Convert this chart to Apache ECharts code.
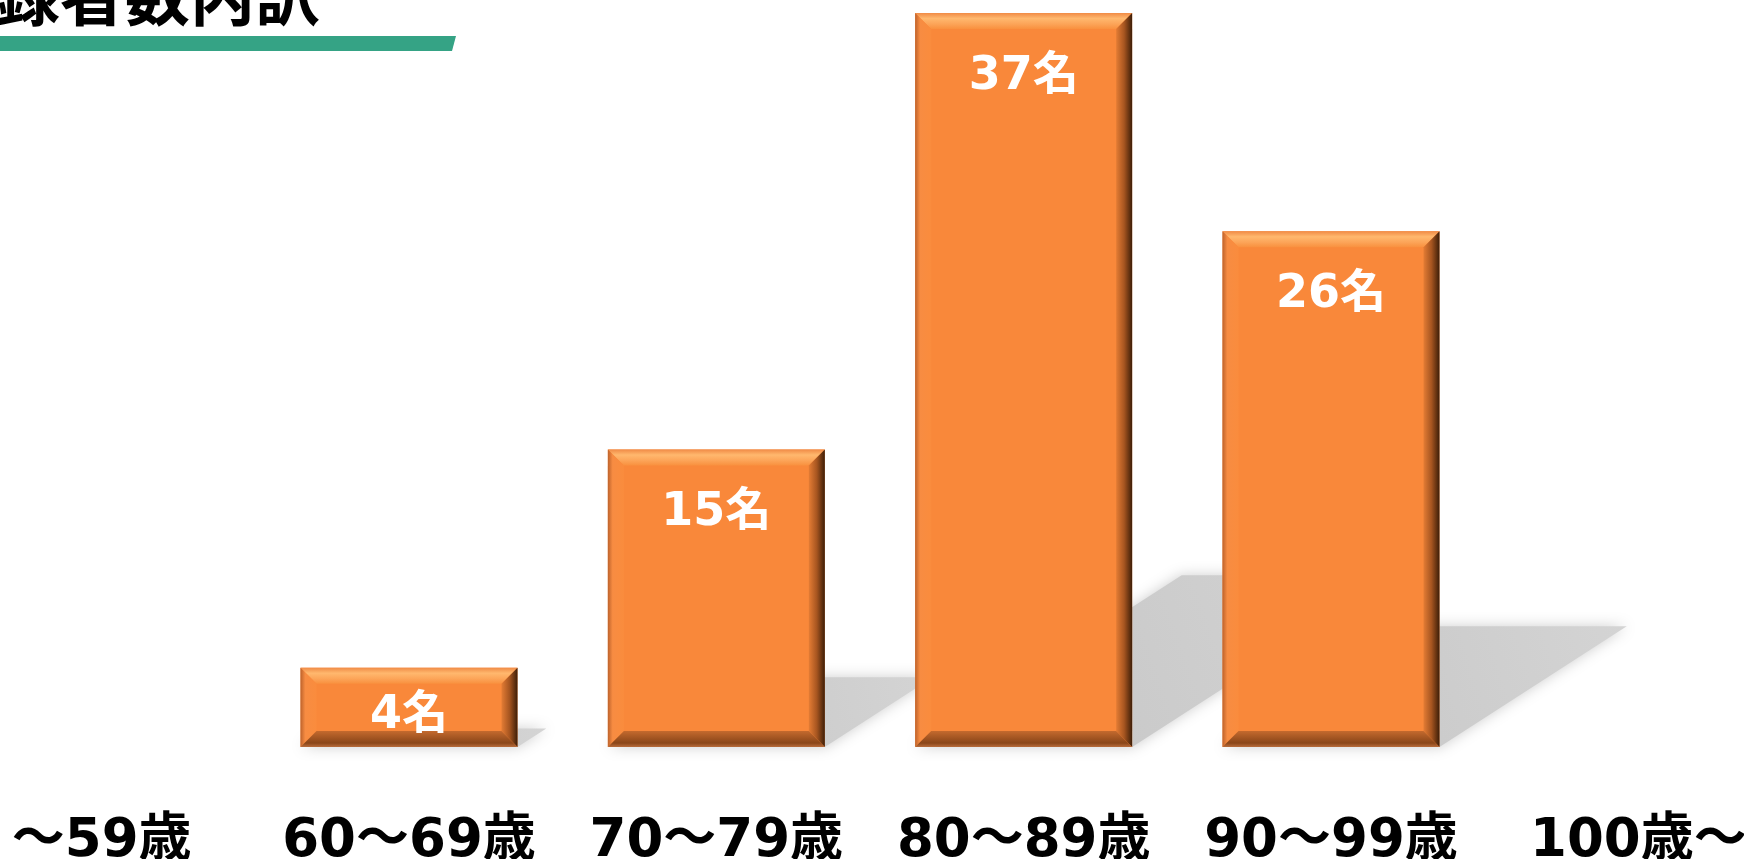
<!DOCTYPE html>
<html>
<head>
<meta charset="utf-8">
<title>登録者数内訳</title>
<script src="https://cdn.jsdelivr.net/npm/echarts@6.0.0/dist/echarts.min.js"></script>
<style>
  html, body { margin: 0; padding: 0; background: #fff; overflow: hidden; }
  /* 左右のカテゴリが画面外にはみ出す配置なので、描画領域を少し広げて左へずらす */
  #main { position: absolute; left: -52px; top: 0; width: 1844px; height: 859px; }
</style>
</head>
<body>
<div id="main"></div>
<script>
  // データ
  var titleText = '登録者数内訳';
  var categories = ['～59歳', '60～69歳', '70～79歳', '80～89歳', '90～99歳', '100歳～'];
  var counts = [0, 4, 15, 37, 26, 0];
  var unit = '名';

  var FONT = "'DejaVu Sans', 'Noto Sans CJK JP', sans-serif";
  var BAR_RATIO = 0.706; // 棒の幅（カテゴリ幅に対する割合）
  var BEVEL = 16;
  var OFFSET_X = 52; // 画面左端の位置（コンテナ内座標）

  var myChart = echarts.init(document.getElementById('main'));

  // 棒の矩形を求める
  function barRect(api) {
    var i = api.value(0);
    var v = api.value(1);
    var top = api.coord([i, v]);
    var base = api.coord([i, 0]);
    var w = api.size([1, 0])[0] * BAR_RATIO;
    return { x0: top[0] - w / 2, x1: top[0] + w / 2, y0: top[1], y1: base[1] };
  }

  // 床の影
  function renderShadow(params, api) {
    if (!api.value(1)) return null;
    var r = barRect(api);
    var h = r.y1 - r.y0;
    var dy = h * 0.234, dx = h * 0.363;
    return {
      type: 'polygon',
      shape: { points: [[r.x0, r.y1], [r.x1, r.y1], [r.x1 + dx, r.y1 - dy], [r.x0 + dx, r.y1 - dy]] },
      style: {
        fill: new echarts.graphic.LinearGradient(0, 1, 1, 0, [
          { offset: 0, color: '#C4C4C4' },
          { offset: 1, color: '#D4D4D4' }
        ]),
        shadowBlur: 14,
        shadowColor: 'rgba(200,200,200,0.9)'
      }
    };
  }

  // 棒本体＋面取り（ベベル）
  function renderBar(params, api) {
    if (!api.value(1)) return null;
    var r = barRect(api);
    var b = Math.min(BEVEL, (r.y1 - r.y0) / 2);
    var x0 = r.x0, x1 = r.x1, y0 = r.y0, y1 = r.y1;
    return {
      type: 'group',
      children: [
        {
          type: 'rect',
          shape: { x: x0, y: y0, width: x1 - x0, height: y1 - y0 },
          style: { fill: '#F9883A' }
        },
        {
          type: 'polygon',
          shape: { points: [[x0, y0], [x1, y0], [x1 - b, y0 + b], [x0 + b, y0 + b]] },
          style: { fill: new echarts.graphic.LinearGradient(0, 0, 0, 1, [
            { offset: 0, color: '#F08A45' },
            { offset: 0.35, color: '#FFB86E' },
            { offset: 0.7, color: '#FCA458' },
            { offset: 1, color: '#F9913F' }
          ]) }
        },
        {
          type: 'polygon',
          shape: { points: [[x0, y0], [x0 + b, y0 + b], [x0 + b, y1 - b], [x0, y1]] },
          style: { fill: new echarts.graphic.LinearGradient(0, 0, 1, 0, [
            { offset: 0, color: '#BE632C' },
            { offset: 0.3, color: '#F78C42' },
            { offset: 1, color: '#FA8C3D' }
          ]) }
        },
        {
          type: 'polygon',
          shape: { points: [[x1, y0], [x1, y1], [x1 - b, y1 - b], [x1 - b, y0 + b]] },
          style: { fill: new echarts.graphic.LinearGradient(0, 0, 1, 0, [
            { offset: 0, color: '#E47C34' },
            { offset: 0.5, color: '#A65520' },
            { offset: 1, color: '#3D1E08' }
          ]) }
        },
        {
          type: 'polygon',
          shape: { points: [[x0, y1], [x0 + b, y1 - b], [x1 - b, y1 - b], [x1, y1]] },
          style: { fill: new echarts.graphic.LinearGradient(0, 0, 0, 1, [
            { offset: 0, color: '#C46A2E' },
            { offset: 0.75, color: '#8A4619' },
            { offset: 1, color: '#B86C3C' }
          ]) }
        }
      ]
    };
  }

  var xyData = counts.map(function (v, i) { return [i, v]; });

  var option = {
    animation: false,
    backgroundColor: '#ffffff',
    grid: { left: 0, right: 0, top: 0, bottom: 112, outerBoundsMode: 'none' },
    xAxis: {
      type: 'category',
      data: categories,
      axisLine: { show: false },
      axisTick: { show: false },
      axisLabel: {
        interval: 0,
        margin: 69,
        color: '#000000',
        fontSize: 53,
        fontWeight: 'bold',
        fontFamily: FONT
      }
    },
    yAxis: {
      type: 'value',
      show: false,
      min: 0,
      max: 37.65,
      splitLine: { show: false }
    },
    graphic: [
      {
        type: 'text',
        x: OFFSET_X - 70,
        y: 28,
        style: {
          text: titleText,
          fill: '#000000',
          fontSize: 65,
          fontWeight: 'bold',
          fontFamily: "'Noto Sans CJK JP', sans-serif",
          verticalAlign: 'bottom'
        }
      },
      {
        type: 'polygon',
        shape: { points: [[0, 36], [OFFSET_X + 456, 36], [OFFSET_X + 452, 51], [0, 51]] },
        style: { fill: '#35A385' }
      }
    ],
    series: [
      {
        type: 'custom',
        z: 1,
        silent: true,
        renderItem: renderShadow,
        encode: { x: 0, y: 1 },
        data: xyData
      },
      {
        type: 'custom',
        z: 2,
        silent: true,
        renderItem: renderBar,
        encode: { x: 0, y: 1 },
        data: xyData
      },
      {
        // ラベル表示用（棒自体は透明）
        type: 'bar',
        z: 4,
        barWidth: (BAR_RATIO * 100) + '%',
        itemStyle: { color: 'rgba(0,0,0,0)' },
        label: {
          show: true,
          position: 'insideTop',
          distance: 41,
          color: '#ffffff',
          fontSize: 46,
          fontWeight: 'bold',
          fontFamily: FONT,
          formatter: function (p) { return p.value ? p.value + unit : ''; }
        },
        data: counts.map(function (v) {
          return v < 8 ? { value: v, label: { distance: 25 } } : v;
        })
      }
    ]
  };

  myChart.setOption(option);
</script>
</body>
</html>
